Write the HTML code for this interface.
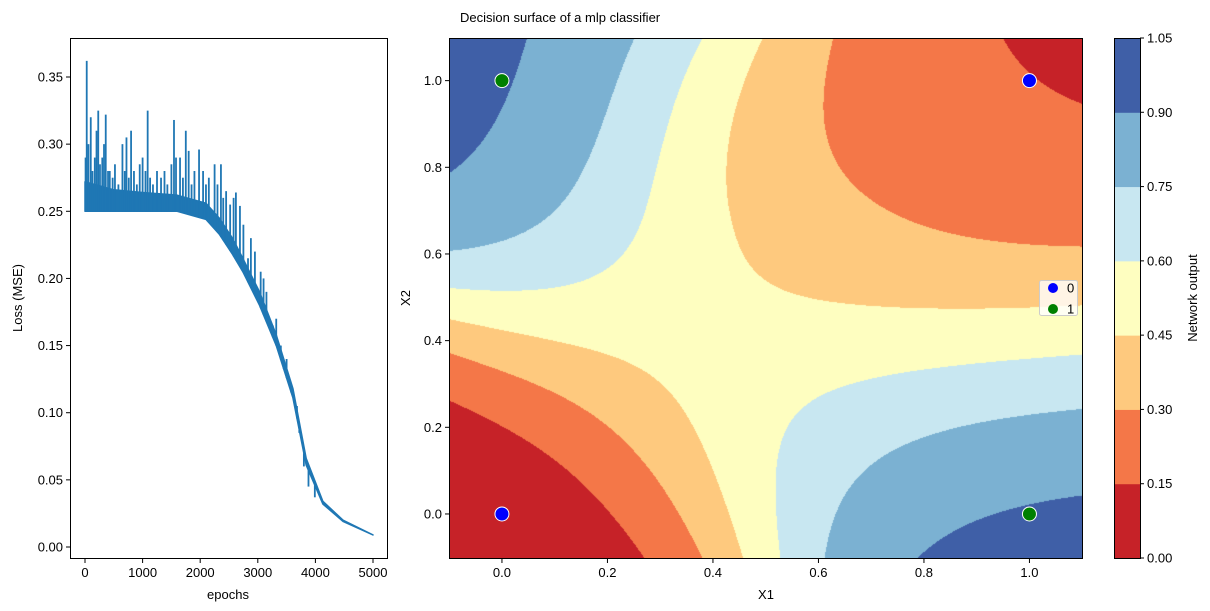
<!DOCTYPE html>
<html><head><meta charset="utf-8"><style>
html,body{margin:0;padding:0;background:#fff;}
#wrap{position:relative;width:1210px;height:611px;overflow:hidden;font-family:"Liberation Sans",sans-serif;}
#surf{position:absolute;left:450px;top:38px;}
svg{position:absolute;left:0;top:0;}
text{font-family:"Liberation Sans",sans-serif;font-size:13px;fill:#000;}
</style></head><body>
<div id="wrap">
<canvas id="surf" width="633" height="520"></canvas>
<svg id="svg" width="1210" height="611"></svg>
</div>
<script>
// ---- Loss data ----
const lossEpochs = [0,500,1000,1600,2100,2330,2560,2740,3030,3320,3610,3840,4130,4480,5000];
const lossLow    = [0.25,0.25,0.25,0.25,0.244,0.233,0.218,0.205,0.18,0.15,0.111,0.061,0.032,0.019,0.009];
const lossHigh   = [0.272,0.266,0.264,0.262,0.256,0.245,0.23,0.215,0.19,0.158,0.118,0.066,0.034,0.02,0.009];
const spikeEpochs = [10,30,60,100,130,170,200,230,260,300,330,360,400,430,480,520,580,650,690,720,760,800,850,900,950,1000,1050,1088,1130,1180,1250,1320,1380,1430,1500,1545,1580,1650,1700,1750,1800,1850,1900,1980,2050,2100,2150,2250,2300,2360,2400,2450,2520,2580,2620,2690,2750,2830,2880,2950,3050,3100,3150,3260,3320,3400,3450,3500,3580,3680,3720,3800,3880,3990];
const spikeValues = [0.29,0.362,0.3,0.32,0.28,0.29,0.31,0.325,0.285,0.29,0.3,0.322,0.28,0.28,0.275,0.285,0.27,0.30,0.28,0.305,0.275,0.31,0.28,0.27,0.285,0.29,0.28,0.325,0.275,0.27,0.28,0.275,0.28,0.27,0.285,0.318,0.29,0.29,0.275,0.31,0.295,0.27,0.28,0.296,0.28,0.27,0.275,0.285,0.27,0.285,0.26,0.265,0.255,0.26,0.264,0.254,0.24,0.215,0.23,0.22,0.205,0.2,0.19,0.165,0.17,0.15,0.135,0.14,0.12,0.105,0.085,0.06,0.045,0.037];
const lossXTicks = [0,1000,2000,3000,4000,5000];
const lossYTicks = [0,0.05,0.1,0.15,0.2,0.25,0.3,0.35];
// ---- Surface data ----
const pointX = [0,1,0,1];
const pointY = [0,1,1,0];
const pointClass = [0,0,1,1];
const levels = [0,0.15,0.3,0.45,0.6,0.75,0.9,1.05];
const levelColors = ['#c62228','#f47748','#fec97e','#fefec0','#c8e7f1','#7bb1d2','#3f5fa7'];
const surfTicks = [0,0.2,0.4,0.6,0.8,1.0];
const surfParams = {c:0.46, gain:7.5, sat:0.38};

const NS='http://www.w3.org/2000/svg';
const svg=document.getElementById('svg');
function mk(tag,attrs,parent){const e=document.createElementNS(NS,tag);for(const k in attrs)e.setAttribute(k,attrs[k]);(parent||svg).appendChild(e);return e;}
function txt(s,x,y,anchor,parent,rot){const t=mk('text',{x:x,y:y,'text-anchor':anchor||'middle'},parent);if(rot)t.setAttribute('transform','rotate(-90 '+x+' '+y+')');t.textContent=s;return t;}

// Loss axes
const lx=e=>85+e*(373-85)/5000, ly=v=>547-v*(470/0.35);
function interp(xs,ys,x){for(let i=1;i<xs.length;i++){if(x<=xs[i]){const t=(x-xs[i-1])/(xs[i]-xs[i-1]);return ys[i-1]+t*(ys[i]-ys[i-1]);}}return ys[ys.length-1];}
const lg=mk('g',{});

let pts=lossEpochs.map((e,i)=>lx(e)+','+ly(lossHigh[i]));
pts=pts.concat(lossEpochs.slice().reverse().map((e,i)=>lx(e)+','+ly(lossLow[lossLow.length-1-i])));
const band=mk('polygon',{points:pts.join(' '),fill:'#1f77b4',stroke:'#1f77b4','stroke-width':1.5,'stroke-linejoin':'round'},lg);

spikeEpochs.forEach((e,i)=>{const l=mk('line',{x1:lx(e),x2:lx(e),y1:ly(interp(lossEpochs,lossLow,e)),y2:ly(spikeValues[i]),stroke:'#1f77b4','stroke-width':1.8},lg);
});
const lf=mk('rect',{x:70.5,y:38.5,width:317,height:520,fill:'none',stroke:'#000','stroke-width':1});

lossXTicks.forEach(e=>{mk('line',{x1:lx(e),x2:lx(e),y1:559,y2:563,stroke:'#000'});const t=txt(String(e),lx(e),577);});
lossYTicks.forEach(v=>{mk('line',{x1:66,x2:70,y1:ly(v),y2:ly(v),stroke:'#000'});const t=txt(v.toFixed(2),63,ly(v)+4.5,'end');});
let t1=txt('epochs',228,599);
let t2=txt('Loss (MSE)',22,298,'middle',null,true);

// Surface
const sx=x=>449.2+(x+0.1)*(633/1.2), sy=y=>557.3-(y+0.1)*(520/1.2);
function gauss(d,w){return Math.exp(-(d/w)*(d/w));}
function sq(u){return u>0?surfParams.sat*Math.tanh(u/surfParams.sat):u;}
function f(x,y){
  let qy;
  if(y>0.7){const a=(y-0.7)/0.4;qy=0.085*a*a;}
  else if(y<0.42){qy=0.11*(0.42-y)/0.52;}
  else qy=0;
  const cx=surfParams.c+gauss(x-0.42,0.3)*(-0.09+qy);
  const rx=x<0.41?0.055*((x-0.41)/0.51)*((x-0.41)/0.51):0.025*((x-0.41)/0.69)*((x-0.41)/0.69);
  const cy=surfParams.c+gauss(y-0.45,0.3)*(-0.04+rx);
  const u=sq(x-cx),v=sq(y-cy);return 0.5-0.5*Math.tanh(surfParams.gain*u*v);}
const cv=document.getElementById('surf'),ctx=cv.getContext('2d');
const img=ctx.createImageData(633,520);
const rgb=levelColors.map(h=>[parseInt(h.slice(1,3),16),parseInt(h.slice(3,5),16),parseInt(h.slice(5,7),16)]);
for(let j=0;j<520;j++){const y=1.1-(j+0.5)*1.2/520;for(let i=0;i<633;i++){const x=-0.1+(i+0.5)*1.2/633;const val=f(x,y);let k=0;while(k<levelColors.length-1&&val>=levels[k+1])k++;const o=(j*633+i)*4;img.data[o]=rgb[k][0];img.data[o+1]=rgb[k][1];img.data[o+2]=rgb[k][2];img.data[o+3]=255;}}
ctx.putImageData(img,0,0);
const sf=mk('rect',{x:449.5,y:38.5,width:633,height:520,fill:'none',stroke:'#000'});

pointX.forEach((px,i)=>{const c=mk('circle',{cx:sx(px),cy:sy(pointY[i]),r:7,fill:pointClass[i]?'#008000':'#0000ff',stroke:'#fff','stroke-width':1});
});
surfTicks.forEach(v=>{mk('line',{x1:sx(v),x2:sx(v),y1:559,y2:563,stroke:'#000'});let a=txt(v.toFixed(1),sx(v),577);
mk('line',{x1:445,x2:449,y1:sy(v),y2:sy(v),stroke:'#000'});let b=txt(v.toFixed(1),442,sy(v)+4.5,'end');});
let t3=txt('X1',766,599);
let t4=txt('X2',410,298,'middle',null,true);
let t5=txt('Decision surface of a mlp classifier',460,22,'start');t5.setAttribute('font-size','14.5');

// Legend
const leg=mk('g',{});
mk('rect',{x:1039.5,y:280.5,width:38,height:35,rx:2,fill:'rgba(255,255,255,0.8)',stroke:'#ccc'},leg);
['0','1'].forEach((s,i)=>{mk('circle',{cx:1053,cy:288+i*21,r:5,fill:i?'#008000':'#0000ff'},leg);let t=txt(s,1067,292.5+i*21,'start',leg);});

// Colorbar
const cy=v=>558-v*(520/1.05);
const cb=mk('g',{});
levelColors.forEach((c,k)=>{const r=mk('rect',{x:1114,y:cy(levels[k+1]),width:26,height:cy(levels[k])-cy(levels[k+1])+0.5,fill:c},cb);});
mk('rect',{x:1114.5,y:38.5,width:26,height:520,fill:'none',stroke:'#000'},cb);
levels.forEach(v=>{mk('line',{x1:1140,x2:1144,y1:cy(v),y2:cy(v),stroke:'#000'},cb);let t=txt(v.toFixed(2),1147,cy(v)+4.5,'start',cb);});
let t6=txt('Network output',1197,298,'middle',null,true);
</script>
</body></html>
